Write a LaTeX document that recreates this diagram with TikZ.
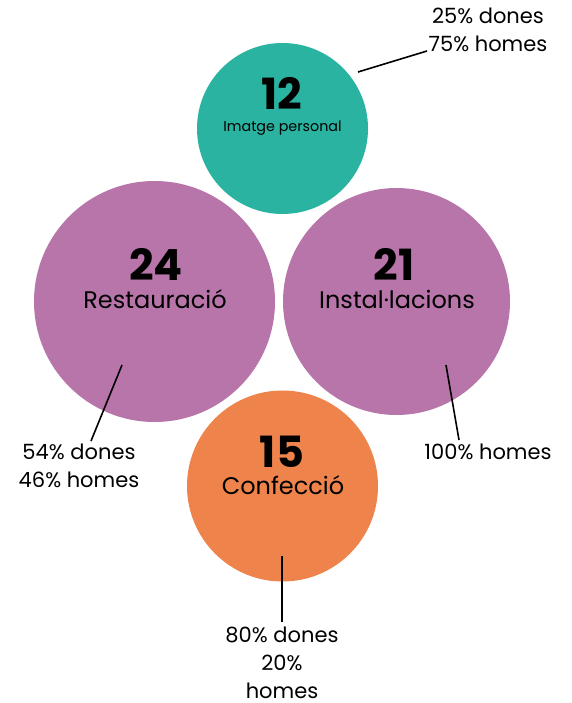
\documentclass[tikz,border=0pt]{standalone}
\usepackage{fontspec}
\setmainfont{Poppins}
\definecolor{teal1}{RGB}{42,179,160}
\definecolor{purp}{RGB}{184,117,170}
\definecolor{orng}{RGB}{238,131,75}
\begin{document}
\begin{tikzpicture}[x=1pt,y=-1pt,
  bubble/.style={circle,inner sep=0pt,draw=none},
  num/.style={font=\fontsize{43}{43}\selectfont\bfseries,inner sep=0pt,anchor=base},
  cat/.style={font=\fontsize{24}{24}\selectfont,inner sep=0pt,anchor=base},
  pct/.style={font=\fontsize{21}{28}\selectfont,inner sep=0pt,align=center},
  lead/.style={draw=black,line width=1.6pt}]
\useasboundingbox (0,0) rectangle (571,703);
\node[bubble,fill=teal1,minimum size=171pt] (c12) at (282.5,128.5) {};
\node[bubble,fill=purp,minimum size=241pt] (c24) at (154.5,301.5) {};
\node[bubble,fill=purp,minimum size=227pt] (c21) at (396.5,301.5) {};
\node[bubble,fill=orng,minimum size=191pt] (c15) at (282.5,486) {};
% texts
\node[num] (n12) at (282,110) {12};
\node[font=\fontsize{14.3}{14.3}\selectfont,inner sep=0pt,anchor=base] (t12) at (282.5,132) {Imatge personal};
\node[num] (n24) at (156,280) {24};
\node[cat] (t24) at (155,308) {Restauració};
\node[num] (n21) at (394,280) {21};
\node[cat] (t21) at (397,308) {Instal·lacions};
\node[num] (n15) at (282,467) {15};
\node[cat] (t15) at (283,494) {Confecció};
% percentages
\node[pct] (p12) at (488,30) {25\% dones\\75\% homes};
\node[pct] (p24) at (79,466) {54\% dones\\46\% homes};
\node[pct] (p21) at (488,452) {100\% homes};
\node[pct,anchor=base] (p15) at (282,698) {80\% dones\\20\%\\homes};
% leader lines
\coordinate (s12) at (358,72);
\coordinate (e12) at (427,51);
\coordinate (s24) at (122,365);
\coordinate (e24) at (91,441);
\coordinate (s21) at (446,365);
\coordinate (e21) at (459,440);
\coordinate (s15) at (282,556);
\coordinate (e15) at (282,622);
\draw[lead] (s12) -- (e12);
\draw[lead] (s24) -- (e24);
\draw[lead] (s21) -- (e21);
\draw[lead] (s15) -- (e15);
\end{tikzpicture}
\end{document}
